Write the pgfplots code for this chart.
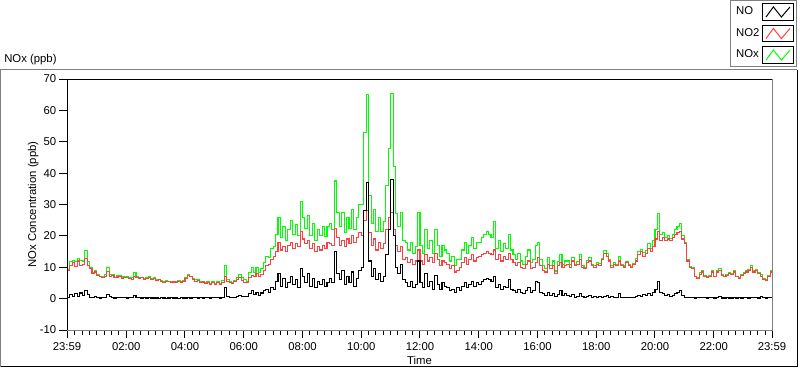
\documentclass[border=0pt]{standalone}
\usepackage{fontspec}
\setmainfont{Liberation Sans}
\usepackage{pgfplots}
\usepackage{pgfplotstable}
\pgfplotsset{compat=1.18}
\definecolor{noxred}{RGB}{255,64,64}
\definecolor{noxgreen}{RGB}{0,255,0}
\definecolor{framegray}{RGB}{128,128,128}

\pgfplotstableread{
t NO NO2 NOx
-1 0.3 9.0 9.3
5 1.2 10.5 11.7
10 0.6 11.5 12.1
15 1.5 10.2 11.7
20 0.8 12.0 12.8
25 1.8 10.5 12.3
30 1.0 11.0 12.0
35 2.5 12.8 15.3
40 1.2 10.5 11.7
45 0.5 9.5 10.0
50 0.3 8.0 8.3
55 0.6 8.5 9.1
60 0.3 7.5 7.8
65 0.2 7.0 7.2
70 0.4 6.8 7.2
75 0.5 7.2 7.7
80 1.2 8.6 9.8
85 0.6 7.0 7.6
90 0.3 7.4 7.7
95 0.2 6.6 6.8
100 0.4 6.9 7.3
105 0.3 7.1 7.4
110 0.5 6.4 6.9
115 0.3 6.7 7.0
120 0.2 6.8 7.0
125 0.3 6.5 6.8
130 0.5 6.2 6.7
135 1.0 7.2 8.2
140 0.4 6.8 7.2
145 0.3 6.3 6.6
150 0.2 6.6 6.8
155 0.3 6.0 6.3
160 0.2 6.4 6.6
165 0.3 6.7 7.0
170 0.2 6.2 6.4
175 0.2 6.5 6.7
180 0.2 5.8 6.0
185 0.1 6.0 6.1
190 0.3 5.5 5.8
195 0.2 5.2 5.4
200 0.1 5.6 5.7
205 0.2 5.4 5.6
210 0.3 5.0 5.3
215 0.2 5.3 5.5
220 0.2 5.1 5.3
225 0.1 5.6 5.7
230 0.3 5.3 5.6
235 0.2 5.5 5.7
240 0.2 6.5 6.7
245 0.3 7.4 7.7
250 0.2 7.0 7.2
255 0.3 6.2 6.5
260 0.4 5.6 6.0
265 0.2 5.8 6.0
270 0.3 5.0 5.3
275 0.2 5.3 5.5
280 0.3 4.8 5.1
285 0.4 5.2 5.6
290 0.2 4.6 4.8
295 0.3 5.0 5.3
300 0.3 4.6 4.9
305 0.4 5.0 5.4
310 0.2 4.5 4.7
315 0.5 5.2 5.7
320 3.5 7.0 10.5
325 0.6 5.5 6.1
330 0.3 5.0 5.3
335 0.4 4.8 5.2
340 0.5 5.4 5.9
345 0.6 6.0 6.6
350 1.0 6.6 7.6
355 0.8 5.8 6.6
360 0.8 5.2 6.0
365 0.6 5.0 5.6
370 1.5 6.8 8.3
375 2.5 7.5 10.0
380 1.2 7.0 8.2
385 2.0 8.0 10.0
390 1.0 7.2 8.2
395 1.8 7.8 9.6
400 2.5 9.0 11.5
405 3.0 10.5 13.5
410 2.0 11.0 13.0
415 3.5 12.5 16.0
420 3.0 13.5 16.5
425 5.5 15.0 20.5
430 8.0 18.0 26.0
435 4.0 15.5 19.5
440 6.5 16.5 23.0
445 3.5 15.0 18.5
450 5.0 17.0 22.0
455 7.0 18.0 25.0
460 4.5 16.0 20.5
465 6.0 17.5 23.5
470 3.5 16.5 20.0
475 9.5 21.5 31.0
480 7.0 19.0 26.0
485 5.0 17.5 22.5
490 8.0 18.5 26.5
495 4.0 16.0 20.0
500 6.5 17.5 24.0
505 3.5 15.0 18.5
510 5.5 16.5 22.0
515 4.5 15.5 20.0
520 6.0 17.0 23.0
525 3.8 16.0 19.8
530 5.0 18.0 23.0
535 6.5 17.5 24.0
540 5.0 17.0 22.0
545 15.0 22.5 37.5
550 8.0 19.5 27.5
555 6.0 17.0 23.0
560 9.0 18.5 27.5
565 4.5 16.5 21.0
570 7.0 19.0 26.0
575 5.0 17.5 22.5
580 8.5 20.0 28.5
585 4.0 18.0 22.0
590 6.5 19.5 26.0
595 9.0 21.0 30.0
600 10.0 20.0 30.0
605 28.0 25.0 53.0
610 37.0 28.0 65.0
615 12.0 21.0 33.0
620 7.0 17.0 24.0
625 9.5 19.0 28.5
630 6.0 15.5 21.5
635 8.0 18.0 26.0
640 5.5 16.0 21.5
645 7.0 17.5 24.5
650 14.0 22.0 36.0
655 22.0 26.0 48.0
660 38.0 27.5 65.5
665 20.0 22.0 42.0
670 10.0 17.0 27.0
675 8.0 15.0 23.0
680 11.0 16.5 27.5
685 6.0 12.5 18.5
690 5.0 13.0 18.0
695 4.0 11.5 15.5
700 5.5 12.5 18.0
705 3.5 11.0 14.5
710 4.5 12.0 16.5
715 12.0 15.5 27.5
720 5.0 12.0 17.0
725 3.5 11.0 14.5
730 8.0 14.0 22.0
735 4.0 12.0 16.0
740 5.5 13.0 18.5
745 3.0 11.5 14.5
750 7.5 14.5 22.0
755 4.5 12.5 17.0
760 3.0 10.5 13.5
765 5.0 12.0 17.0
770 4.0 11.5 15.5
775 3.5 11.0 14.5
780 2.5 9.5 12.0
785 3.0 10.5 13.5
790 2.0 8.5 10.5
795 3.5 9.0 12.5
800 2.5 10.0 12.5
805 4.0 11.5 15.5
810 5.0 13.0 18.0
815 3.5 11.0 14.5
820 4.5 12.5 17.0
825 5.5 14.0 19.5
830 4.0 12.0 16.0
835 5.0 13.0 18.0
840 4.5 13.5 18.0
845 5.5 14.0 19.5
850 6.0 14.5 20.5
855 6.5 15.0 21.5
860 6.0 14.5 20.5
865 5.5 14.0 19.5
870 7.0 15.5 24.5
875 3.5 12.5 16.0
880 4.5 14.0 18.5
885 3.0 12.0 15.0
890 4.0 13.5 17.5
895 3.5 12.5 16.0
900 6.0 14.5 20.5
905 3.0 12.5 15.5
910 2.5 11.5 14.0
915 2.0 10.5 12.5
920 3.0 11.5 14.5
925 2.0 10.0 12.0
930 1.5 9.5 11.0
935 2.5 11.0 13.5
940 3.5 12.0 15.5
945 2.0 9.5 11.5
950 2.5 10.0 12.5
955 5.5 11.5 17.0
960 5.0 13.0 18.0
965 2.0 10.5 12.5
970 1.5 9.0 10.5
975 1.0 8.5 9.5
980 2.0 11.0 13.0
985 1.0 9.5 10.5
990 1.5 10.5 12.0
995 0.8 8.0 8.8
1000 1.2 10.5 11.7
1005 2.5 11.5 14.0
1010 1.0 10.0 11.0
1015 1.5 10.5 12.0
1020 1.0 11.0 12.0
1025 0.8 10.0 10.8
1030 1.2 12.0 13.2
1035 0.5 10.5 11.0
1040 0.8 11.0 11.8
1045 1.5 12.5 14.0
1050 0.6 10.0 10.6
1055 0.5 9.5 10.0
1060 0.8 11.5 12.3
1065 1.0 12.0 13.0
1070 0.5 10.5 11.0
1075 0.7 10.0 10.7
1080 0.5 11.0 11.5
1085 0.6 10.5 11.1
1090 0.4 12.5 12.9
1095 0.8 14.5 15.3
1100 1.0 13.5 14.5
1105 0.5 12.0 12.5
1110 0.6 10.0 10.6
1115 0.4 11.0 11.4
1120 0.5 10.5 11.0
1125 1.5 12.0 13.5
1130 0.5 10.5 11.0
1135 0.4 10.0 10.4
1140 0.4 11.5 11.9
1145 0.5 10.5 11.0
1150 0.3 10.0 10.3
1155 0.4 10.8 11.2
1160 0.8 12.0 12.8
1165 1.0 14.0 15.0
1170 0.8 15.0 15.8
1175 1.2 13.5 14.7
1180 0.9 14.5 15.4
1185 1.5 16.0 17.5
1190 1.0 15.0 16.0
1195 2.0 16.5 18.5
1200 3.0 19.0 22.0
1205 5.5 21.5 27.0
1210 2.0 18.5 20.5
1215 1.5 19.5 21.0
1220 1.0 18.5 19.5
1225 1.2 19.0 20.2
1230 0.8 18.5 19.3
1235 1.0 19.5 20.5
1240 1.5 20.5 22.0
1245 2.0 21.0 23.0
1250 2.5 21.5 24.0
1255 1.0 19.0 20.0
1260 0.5 17.5 18.0
1265 0.4 12.0 12.4
1270 0.3 10.0 10.3
1275 0.3 9.5 9.8
1280 0.2 7.0 7.2
1285 0.3 6.5 6.8
1290 0.4 7.8 8.2
1295 0.5 8.5 9.0
1300 0.3 7.2 7.5
1305 0.2 6.8 7.0
1310 0.4 7.0 7.4
1315 0.3 8.5 8.8
1320 0.2 7.0 7.2
1325 0.3 8.5 8.8
1330 0.6 9.0 9.6
1335 0.2 7.5 7.7
1340 0.2 7.0 7.2
1345 0.3 7.5 7.8
1350 0.2 8.0 8.2
1355 0.2 7.8 8.0
1360 0.5 8.5 9.0
1365 0.2 7.0 7.2
1370 0.3 6.5 6.8
1375 0.2 7.5 7.7
1380 0.3 8.0 8.3
1385 0.4 8.5 8.9
1390 0.2 9.0 9.2
1395 0.5 10.0 10.5
1400 0.3 8.5 8.8
1405 0.4 9.0 9.4
1410 0.2 8.0 8.2
1415 0.6 7.0 7.6
1420 0.3 6.0 6.3
1425 0.2 5.8 6.0
1430 0.4 7.0 7.4
1435 0.3 8.5 8.8
1439 0.3 8.5 8.8
}\noxdata

\begin{document}
\begin{tikzpicture}[font=\fontsize{8.5}{10}\selectfont]
\useasboundingbox (0,0) rectangle (600pt,-276.75pt);
\begin{scope}[x=0.75pt,y=-0.75pt]
\draw[framegray, line width=0.75pt] (0.5,366.5) -- (0.5,69.5) -- (797,69.5);
\draw[black, line width=0.75pt] (0.5,366.5) -- (797.5,366.5) -- (797.5,69.5);
\node[anchor=base west, inner sep=0pt] at (4,62.7) {NOx (ppb)};
\end{scope}
\begin{axis}[
  name=ax,
  at={(50.25pt,-247.5pt)}, anchor=south west,
  scale only axis, width=528.75pt, height=188.25pt,
  xmin=-1, xmax=1439, ymin=-10, ymax=70,
  axis line style={draw=none},
  tick align=outside,
  xtick pos=bottom, ytick pos=left,
  major tick length=6pt, minor tick length=3.5pt,
  tick style={black, line width=0.75pt},
  xtick={-1,120,240,360,480,600,720,840,960,1080,1200,1320,1439},
  xticklabels={23:59,02:00,04:00,06:00,08:00,10:00,12:00,14:00,16:00,18:00,20:00,22:00,23:59},
  minor xtick={15,30,...,1425},
  ytick={-10,0,...,70},
  /pgf/number format/assume math mode=true,
  tick label style={font=\fontsize{8.5}{10}\selectfont},
  yticklabel style={xshift=1.5pt},
  label style={font=\fontsize{8.5}{10}\selectfont},
  xlabel={Time},
  ylabel={NOx Concentration (ppb)},
  xlabel style={at={(axis description cs:0.5,-0.1195)}, anchor=center},
  ylabel style={at={(axis description cs:-0.048,0.5)}, anchor=center},
  every axis plot/.append style={const plot, line width=0.8pt},
  legend style={at={(1.0355,1.3147)}, anchor=north east, draw=framegray, fill=white,
    line width=0.75pt, font=\fontsize{8.5}{10}\selectfont, inner sep=2pt, row sep=3pt,
    legend cell align=left},
  legend plot pos=right,
  reverse legend,
  legend image code/.code={
    \draw[black, line width=0.75pt, fill=white] (0pt,-6.2pt) rectangle (23pt,6.2pt);
    \draw[#1, line width=0.75pt] (2.5pt,-3.8pt) -- (8pt,3.8pt) -- (14pt,-3.8pt) -- (20.5pt,3.8pt);
  },
]
\addplot[noxgreen] table[x=t, y=NOx] {\noxdata};
\addlegendentry{NOx}
\addplot[noxred] table[x=t, y=NO2] {\noxdata};
\addlegendentry{NO2}
\addplot[black] table[x=t, y=NO] {\noxdata};
\addlegendentry{NO}
\end{axis}
\draw[black, line width=0.75pt] (ax.south west) -- (ax.north west) -- (ax.north east);
\draw[framegray, line width=0.75pt] (ax.north east) -- (ax.south east) -- (ax.south west);
\end{tikzpicture}
\end{document}
